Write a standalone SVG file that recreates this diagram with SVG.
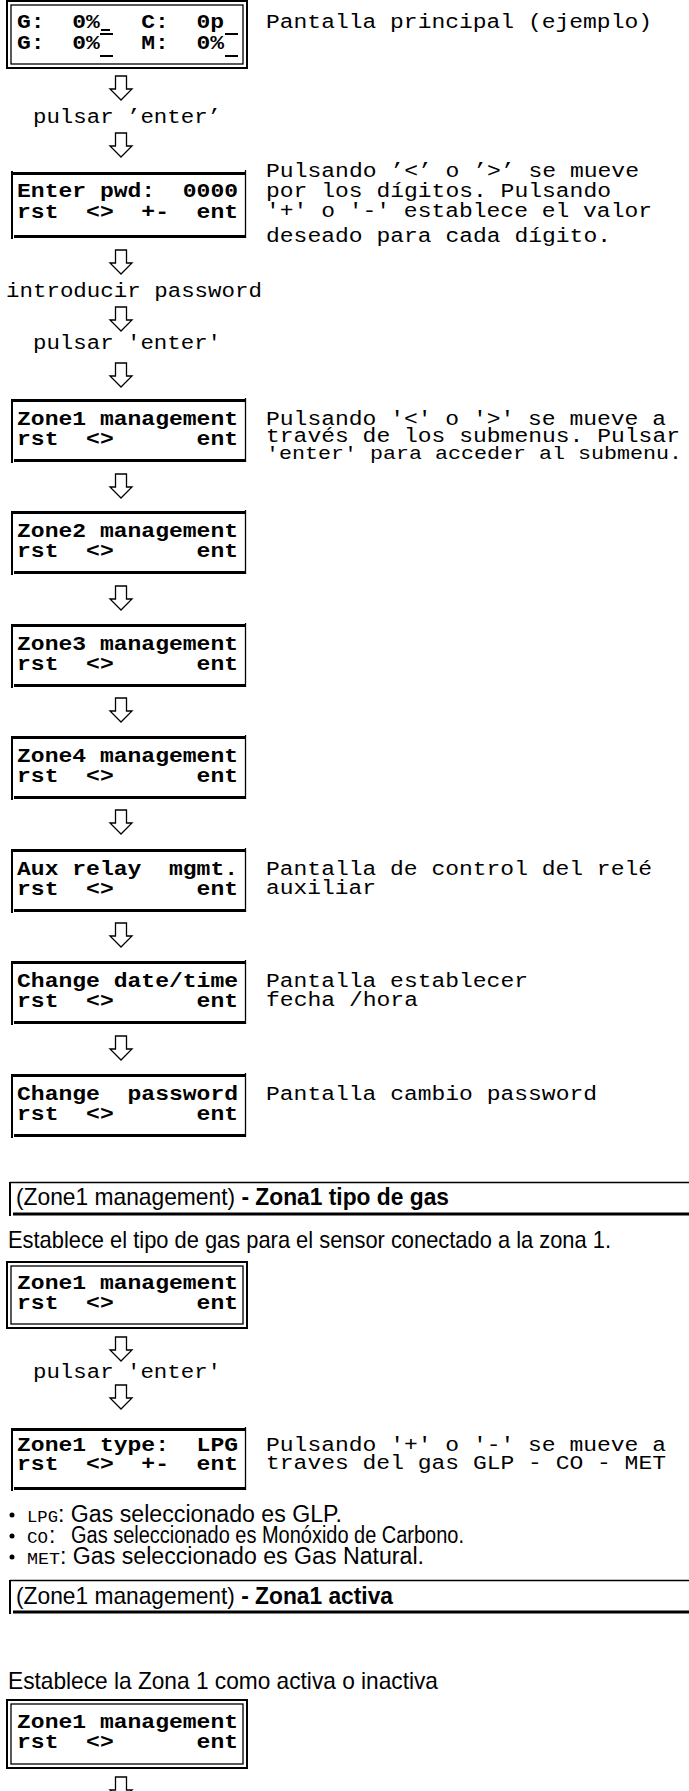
<svg xmlns="http://www.w3.org/2000/svg" width="689" height="1791" viewBox="0 0 689 1791">
<style>
.m { font-family: "Liberation Mono", "Courier New", monospace; font-size: 20px; font-weight: bold; white-space: pre; fill:#000; }
.d { font-family: "Liberation Mono", "Courier New", monospace; font-size: 20px; white-space: pre; fill:#000; }
.d2 { font-size: 19px; }
.s { font-family: "Liberation Sans", Arial, sans-serif; font-size: 24px; fill:#000; }
.s2 { font-family: "Liberation Sans", Arial, sans-serif; font-size: 23px; fill:#000; }
.sb { font-weight: bold; }
.bm { font-family: "Liberation Mono", "Courier New", monospace; font-size: 17px; }
.o2 { fill: none; stroke: #000; stroke-width: 2; }
.o1 { fill: none; stroke: #000; stroke-width: 1.3; }
.t3 { stroke: #000; stroke-width: 3; fill: none; }
.t2 { stroke: #000; stroke-width: 2; fill: none; }
.t1 { stroke: #000; stroke-width: 1.3; fill: none; }
.arr { fill: #fff; stroke: #000; stroke-width: 1.3; }
.cur { stroke: #000; stroke-width: 2; }
</style>
<defs>
<path id="arw" class="arr" d="M-5.5,0 H5.5 V13 H11 L0,24 L-11,13 H-5.5 Z"/>
</defs>

<g id="connectors">
<use href="#arw" x="121" y="76"/>
<use href="#arw" x="121" y="133"/>
<use href="#arw" x="121" y="250"/>
<use href="#arw" x="121" y="307"/>
<use href="#arw" x="121" y="363"/>
<use href="#arw" x="121" y="474"/>
<use href="#arw" x="121" y="586"/>
<use href="#arw" x="121" y="698"/>
<use href="#arw" x="121" y="810"/>
<use href="#arw" x="121" y="923"/>
<use href="#arw" x="121" y="1036"/>
<use href="#arw" x="121" y="1337"/>
<use href="#arw" x="121" y="1385"/>
<use href="#arw" x="121" y="1777"/>
</g>

<g id="main-screen">
<rect class="o2" x="7" y="1" width="240" height="67"/>
<rect class="o1" x="11" y="5" width="232" height="59"/>
<text class="m" x="17" y="28" textLength="207" lengthAdjust="spacingAndGlyphs" xml:space="preserve">G:  0%   C:  0p</text>
<text class="m" x="17" y="49" textLength="207" lengthAdjust="spacingAndGlyphs" xml:space="preserve">G:  0%   M:  0%</text>
<line class="cur" x1="101" y1="30" x2="110" y2="30"/>
<line class="cur" x1="100" y1="34" x2="113" y2="34"/>
<line class="cur" x1="100" y1="56" x2="113" y2="56"/>
<line class="cur" x1="225" y1="34" x2="238" y2="34"/>
<line class="cur" x1="225" y1="56" x2="238" y2="56"/>
<text class="d" x="266" y="28" textLength="386" lengthAdjust="spacingAndGlyphs">Pantalla principal (ejemplo)</text>
</g>

<g id="label-enter1"><text class="d" x="33" y="123" textLength="188" lengthAdjust="spacingAndGlyphs" xml:space="preserve">pulsar ’enter’</text></g>

<g id="enter-pwd">
<path class="t3" d="M11,173.5 H246"/>
<path class="t3" d="M14,236.5 H246"/>
<path class="t2" d="M12,171 V239"/>
<path class="t1" d="M245.5,170 V238"/>
<text class="m" x="17" y="197" textLength="221" lengthAdjust="spacingAndGlyphs" xml:space="preserve">Enter pwd:  0000</text>
<text class="m" x="17" y="218" textLength="221" lengthAdjust="spacingAndGlyphs" xml:space="preserve">rst  &lt;&gt;  +-  ent</text>
<text class="d" x="266" y="177" textLength="373" lengthAdjust="spacingAndGlyphs" xml:space="preserve">Pulsando ’&lt;’ o ’&gt;’ se mueve</text>
<text class="d" x="266" y="197" textLength="345" lengthAdjust="spacingAndGlyphs">por los dígitos. Pulsando</text>
<text class="d" x="266" y="217" textLength="386" lengthAdjust="spacingAndGlyphs" xml:space="preserve">'+' o '-' establece el valor</text>
<text class="d" x="266" y="242" textLength="345" lengthAdjust="spacingAndGlyphs">deseado para cada dígito.</text>
</g>

<g id="label-password"><text class="d" x="6" y="297" textLength="256" lengthAdjust="spacingAndGlyphs">introducir password</text></g>
<g id="label-enter2"><text class="d" x="33" y="349" textLength="188" lengthAdjust="spacingAndGlyphs" xml:space="preserve">pulsar 'enter'</text></g>

<g id="zone1">
<path class="t3" d="M11,400.5 H246"/>
<path class="t3" d="M14,460.5 H246"/>
<path class="t2" d="M12,399 V463"/>
<path class="t1" d="M245.5,398 V462"/>
<text class="m" x="17" y="425" textLength="221" lengthAdjust="spacingAndGlyphs" xml:space="preserve">Zone1 management</text>
<text class="m" x="17" y="445" textLength="221" lengthAdjust="spacingAndGlyphs" xml:space="preserve">rst  &lt;&gt;      ent</text>
<text class="d" x="266" y="425" textLength="400" lengthAdjust="spacingAndGlyphs" xml:space="preserve">Pulsando '&lt;' o '&gt;' se mueve a</text>
<text class="d" x="266" y="442" textLength="414" lengthAdjust="spacingAndGlyphs">través de los submenus. Pulsar</text>
<text class="d d2" x="266" y="459" textLength="416" lengthAdjust="spacingAndGlyphs">'enter' para acceder al submenu.</text>
</g>

<g id="zone2">
<path class="t3" d="M11,512.5 H246"/>
<path class="t3" d="M14,572.5 H246"/>
<path class="t2" d="M12,511 V575"/>
<path class="t1" d="M245.5,510 V574"/>
<text class="m" x="17" y="537" textLength="221" lengthAdjust="spacingAndGlyphs" xml:space="preserve">Zone2 management</text>
<text class="m" x="17" y="557" textLength="221" lengthAdjust="spacingAndGlyphs" xml:space="preserve">rst  &lt;&gt;      ent</text>
</g>

<g id="zone3">
<path class="t3" d="M11,625.5 H246"/>
<path class="t3" d="M14,685.5 H246"/>
<path class="t2" d="M12,624 V688"/>
<path class="t1" d="M245.5,623 V687"/>
<text class="m" x="17" y="650" textLength="221" lengthAdjust="spacingAndGlyphs" xml:space="preserve">Zone3 management</text>
<text class="m" x="17" y="670" textLength="221" lengthAdjust="spacingAndGlyphs" xml:space="preserve">rst  &lt;&gt;      ent</text>
</g>

<g id="zone4">
<path class="t3" d="M11,737.5 H246"/>
<path class="t3" d="M14,797.5 H246"/>
<path class="t2" d="M12,736 V800"/>
<path class="t1" d="M245.5,735 V799"/>
<text class="m" x="17" y="762" textLength="221" lengthAdjust="spacingAndGlyphs" xml:space="preserve">Zone4 management</text>
<text class="m" x="17" y="782" textLength="221" lengthAdjust="spacingAndGlyphs" xml:space="preserve">rst  &lt;&gt;      ent</text>
</g>

<g id="aux-relay">
<path class="t3" d="M11,850.5 H246"/>
<path class="t3" d="M14,910.5 H246"/>
<path class="t2" d="M12,849 V913"/>
<path class="t1" d="M245.5,848 V912"/>
<text class="m" x="17" y="875" textLength="221" lengthAdjust="spacingAndGlyphs" xml:space="preserve">Aux relay  mgmt.</text>
<text class="m" x="17" y="895" textLength="221" lengthAdjust="spacingAndGlyphs" xml:space="preserve">rst  &lt;&gt;      ent</text>
<text class="d" x="266" y="875" textLength="386" lengthAdjust="spacingAndGlyphs">Pantalla de control del relé</text>
<text class="d" x="266" y="894" textLength="110" lengthAdjust="spacingAndGlyphs">auxiliar</text>
</g>

<g id="change-date">
<path class="t3" d="M11,962.5 H246"/>
<path class="t3" d="M14,1022.5 H246"/>
<path class="t2" d="M12,961 V1025"/>
<path class="t1" d="M245.5,960 V1024"/>
<text class="m" x="17" y="987" textLength="221" lengthAdjust="spacingAndGlyphs" xml:space="preserve">Change date/time</text>
<text class="m" x="17" y="1007" textLength="221" lengthAdjust="spacingAndGlyphs" xml:space="preserve">rst  &lt;&gt;      ent</text>
<text class="d" x="266" y="987" textLength="262" lengthAdjust="spacingAndGlyphs">Pantalla establecer</text>
<text class="d" x="266" y="1006" textLength="152" lengthAdjust="spacingAndGlyphs">fecha /hora</text>
</g>

<g id="change-password">
<path class="t3" d="M11,1075.5 H246"/>
<path class="t3" d="M14,1135.5 H246"/>
<path class="t2" d="M12,1074 V1138"/>
<path class="t1" d="M245.5,1073 V1137"/>
<text class="m" x="17" y="1100" textLength="221" lengthAdjust="spacingAndGlyphs" xml:space="preserve">Change  password</text>
<text class="m" x="17" y="1120" textLength="221" lengthAdjust="spacingAndGlyphs" xml:space="preserve">rst  &lt;&gt;      ent</text>
<text class="d" x="266" y="1100" textLength="331" lengthAdjust="spacingAndGlyphs">Pantalla cambio password</text>
</g>

<g id="header-gas">
<path class="t1" d="M10,1182.5 H689"/>
<path class="t3" d="M13,1214 H689"/>
<path class="t2" d="M10,1182 V1216"/>
<text class="s" x="16" y="1205" textLength="433" lengthAdjust="spacingAndGlyphs">(Zone1 management) <tspan class="sb">- Zona1 tipo de gas</tspan></text>
</g>

<g id="text-gas"><text class="s" x="8" y="1248" textLength="603" lengthAdjust="spacingAndGlyphs">Establece el tipo de gas para el sensor conectado a la zona 1.</text></g>

<g id="zone1-b">
<rect class="o2" x="7" y="1262" width="240" height="66"/>
<rect class="o1" x="11" y="1266" width="232" height="58"/>
<text class="m" x="17" y="1289" textLength="221" lengthAdjust="spacingAndGlyphs" xml:space="preserve">Zone1 management</text>
<text class="m" x="17" y="1309" textLength="221" lengthAdjust="spacingAndGlyphs" xml:space="preserve">rst  &lt;&gt;      ent</text>
</g>

<g id="label-enter3"><text class="d" x="33" y="1378" textLength="188" lengthAdjust="spacingAndGlyphs" xml:space="preserve">pulsar 'enter'</text></g>

<g id="zone1-type">
<path class="t3" d="M11,1429.5 H246"/>
<path class="t3" d="M14,1488.5 H246"/>
<path class="t2" d="M12,1428 V1491"/>
<path class="t1" d="M245.5,1427 V1490"/>
<text class="m" x="17" y="1451" textLength="221" lengthAdjust="spacingAndGlyphs" xml:space="preserve">Zone1 type:  LPG</text>
<text class="m" x="17" y="1470" textLength="221" lengthAdjust="spacingAndGlyphs" xml:space="preserve">rst  &lt;&gt;  +-  ent</text>
<text class="d" x="266" y="1451" textLength="400" lengthAdjust="spacingAndGlyphs" xml:space="preserve">Pulsando '+' o '-' se mueve a</text>
<text class="d" x="266" y="1469" textLength="400" lengthAdjust="spacingAndGlyphs">traves del gas GLP - CO - MET</text>
</g>

<g id="bullets">
<circle cx="12" cy="1515" r="2.5"/>
<text class="bm" x="27" y="1522" textLength="31" lengthAdjust="spacingAndGlyphs">LPG</text>
<text class="s2" x="58" y="1522" textLength="284" lengthAdjust="spacingAndGlyphs">: Gas seleccionado es GLP.</text>
<circle cx="12" cy="1536" r="2.5"/>
<text class="bm" x="27" y="1543" textLength="21" lengthAdjust="spacingAndGlyphs">CO</text>
<text class="s2" x="49" y="1543">:</text>
<text class="s2" x="71" y="1543" textLength="393" lengthAdjust="spacingAndGlyphs">Gas seleccionado es Monóxido de Carbono.</text>
<circle cx="12" cy="1557" r="2.5"/>
<text class="bm" x="27" y="1564" textLength="33" lengthAdjust="spacingAndGlyphs">MET</text>
<text class="s2" x="60" y="1564" textLength="364" lengthAdjust="spacingAndGlyphs">: Gas seleccionado es Gas Natural.</text>
</g>

<g id="header-activa">
<path class="t1" d="M10,1580.5 H689"/>
<path class="t3" d="M13,1612 H689"/>
<path class="t2" d="M10,1580 V1614"/>
<text class="s" x="16" y="1604" textLength="377" lengthAdjust="spacingAndGlyphs">(Zone1 management) <tspan class="sb">- Zona1 activa</tspan></text>
</g>

<g id="text-activa"><text class="s" x="8" y="1689" textLength="430" lengthAdjust="spacingAndGlyphs">Establece la Zona 1 como activa o inactiva</text></g>

<g id="zone1-c">
<rect class="o2" x="7" y="1700" width="240" height="68"/>
<rect class="o1" x="11" y="1704" width="232" height="60"/>
<text class="m" x="17" y="1728" textLength="221" lengthAdjust="spacingAndGlyphs" xml:space="preserve">Zone1 management</text>
<text class="m" x="17" y="1748" textLength="221" lengthAdjust="spacingAndGlyphs" xml:space="preserve">rst  &lt;&gt;      ent</text>
</g>
</svg>
